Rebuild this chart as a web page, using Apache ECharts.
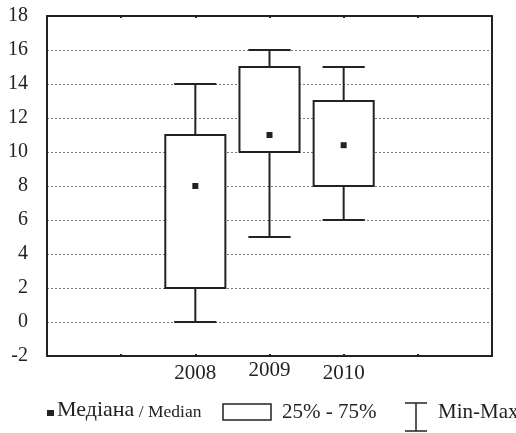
<!DOCTYPE html>
<html>
<head>
<meta charset="utf-8">
<script src="https://cdn.jsdelivr.net/npm/echarts@6/dist/echarts.min.js"></script>
<style>
html,body{margin:0;padding:0;background:#fff;}
#chart{width:516px;height:433px;}
</style>
</head>
<body>
<div id="chart"></div>
<script>
// ---- data ----
const years = ['2008', '2009', '2010'];
const minVals = [0, 5, 6];
const q1Vals = [2, 10, 8];
const medianVals = [8, 11, 10.4];
const q3Vals = [11, 15, 13];
const maxVals = [14, 16, 15];
const yTicks = [-2, 0, 2, 4, 6, 8, 10, 12, 14, 16, 18];

// padded category slots so the years sit at the 3rd..5th of 7 positions
const xCategories = ['', ''].concat(years, ['', '']);
const offset = 2;

const seriesData = years.map((y, i) => [i + offset, minVals[i], q1Vals[i], medianVals[i], q3Vals[i], maxVals[i]]);

const FONT = "'Times New Roman', Times, 'Liberation Serif', Tinos, 'DejaVu Serif', serif";
const INK = '#222';

const chart = echarts.init(document.getElementById('chart'), null, {renderer: 'canvas'});

function renderBox(params, api) {
  const x = api.value(0);
  const pMin = api.coord([x, api.value(1)]);
  const pQ1 = api.coord([x, api.value(2)]);
  const pMed = api.coord([x, api.value(3)]);
  const pQ3 = api.coord([x, api.value(4)]);
  const pMax = api.coord([x, api.value(5)]);
  const band = api.size([1, 0])[0];
  const boxW = band * 0.81;
  const capW = band * 0.57;
  const cx = pMin[0];
  const ls = {stroke: INK, lineWidth: 2, fill: null};
  return {
    type: 'group',
    children: [
      {type: 'line', shape: {x1: cx, y1: pMax[1], x2: cx, y2: pQ3[1]}, style: ls},
      {type: 'line', shape: {x1: cx, y1: pQ1[1], x2: cx, y2: pMin[1]}, style: ls},
      {type: 'line', shape: {x1: cx - capW / 2, y1: pMax[1], x2: cx + capW / 2, y2: pMax[1]}, style: ls},
      {type: 'line', shape: {x1: cx - capW / 2, y1: pMin[1], x2: cx + capW / 2, y2: pMin[1]}, style: ls},
      {type: 'rect', shape: {x: cx - boxW / 2, y: pQ3[1], width: boxW, height: pQ1[1] - pQ3[1]},
        style: {stroke: INK, lineWidth: 2, fill: '#fff'}},
      {type: 'rect', shape: {x: cx - 3, y: pMed[1] - 3, width: 6, height: 6}, style: {fill: INK}}
    ]
  };
}

const option = {
  backgroundColor: '#fff',
  animation: false,
  textStyle: {fontFamily: FONT},
  grid: {left: 47, right: 24, top: 16, bottom: 77, containLabel: false},
  xAxis: [
    {
      type: 'category', data: xCategories, boundaryGap: false, position: 'bottom',
      axisLine: {show: true, onZero: false, lineStyle: {color: INK, width: 2}},
      axisTick: {show: true, inside: true, length: 2, interval: 0, lineStyle: {color: INK, width: 2}},
      axisLabel: {
        show: true, interval: 0, margin: 4, color: INK, fontFamily: FONT, fontSize: 21,
        formatter: v => v === '2009' ? '{h|' + v + '}' : '{n|' + v + '}',
        rich: {
          n: {fontFamily: FONT, fontSize: 21, color: INK, padding: [3, 0, 0, 0]},
          h: {fontFamily: FONT, fontSize: 21, color: INK, padding: [0, 0, 0, 0]}
        }
      },
      splitLine: {show: false}
    },
    {
      type: 'category', data: xCategories, boundaryGap: false, position: 'top',
      axisLine: {show: true, onZero: false, lineStyle: {color: INK, width: 2}},
      axisTick: {show: true, inside: true, length: 2, interval: 0, lineStyle: {color: INK, width: 2}},
      axisLabel: {show: false},
      splitLine: {show: false}
    }
  ],
  yAxis: [
    {
      type: 'value', min: yTicks[0], max: yTicks[yTicks.length - 1], interval: 2,
      axisLine: {show: true, onZero: false, lineStyle: {color: INK, width: 2}},
      axisTick: {show: false},
      axisLabel: {color: INK, fontFamily: FONT, fontSize: 20, margin: 19},
      splitLine: {show: true, lineStyle: {color: '#777', width: 1, type: [2, 2]}}
    },
    {
      type: 'value', position: 'right', min: yTicks[0], max: yTicks[yTicks.length - 1], interval: 2,
      axisLine: {show: true, onZero: false, lineStyle: {color: INK, width: 2}},
      axisTick: {show: false}, axisLabel: {show: false}, splitLine: {show: false}
    }
  ],
  series: [{
    type: 'custom',
    renderItem: renderBox,
    encode: {x: 0, y: [1, 2, 3, 4, 5]},
    data: seriesData,
    z: 5
  }],
  graphic: [
    {type: 'rect', shape: {x: 47, y: 410, width: 7, height: 6}, style: {fill: INK}},
    {type: 'text', x: 57, y: 421, style: {
      text: '{a|Медіана}{b| / Median}', verticalAlign: 'bottom',
      rich: {
        a: {fontFamily: FONT, fontSize: 22, fill: INK, verticalAlign: 'bottom'},
        b: {fontFamily: FONT, fontSize: 17.5, fill: INK, verticalAlign: 'bottom'}
      }
    }},
    {type: 'rect', shape: {x: 223, y: 404, width: 48, height: 16}, style: {fill: '#fff', stroke: INK, lineWidth: 1.5}},
    {type: 'text', x: 282, y: 412, style: {text: '25% - 75%', fontFamily: FONT, fontSize: 21, fill: INK, verticalAlign: 'middle'}},
    {type: 'line', shape: {x1: 416, y1: 403, x2: 416, y2: 431}, style: {stroke: INK, lineWidth: 1.5}},
    {type: 'line', shape: {x1: 405, y1: 403, x2: 427, y2: 403}, style: {stroke: INK, lineWidth: 1.5}},
    {type: 'line', shape: {x1: 405, y1: 431, x2: 427, y2: 431}, style: {stroke: INK, lineWidth: 1.5}},
    {type: 'text', x: 438, y: 412, style: {text: 'Min-Max', fontFamily: FONT, fontSize: 21, fill: INK, verticalAlign: 'middle'}}
  ]
};

chart.setOption(option);
</script>
</body>
</html>
